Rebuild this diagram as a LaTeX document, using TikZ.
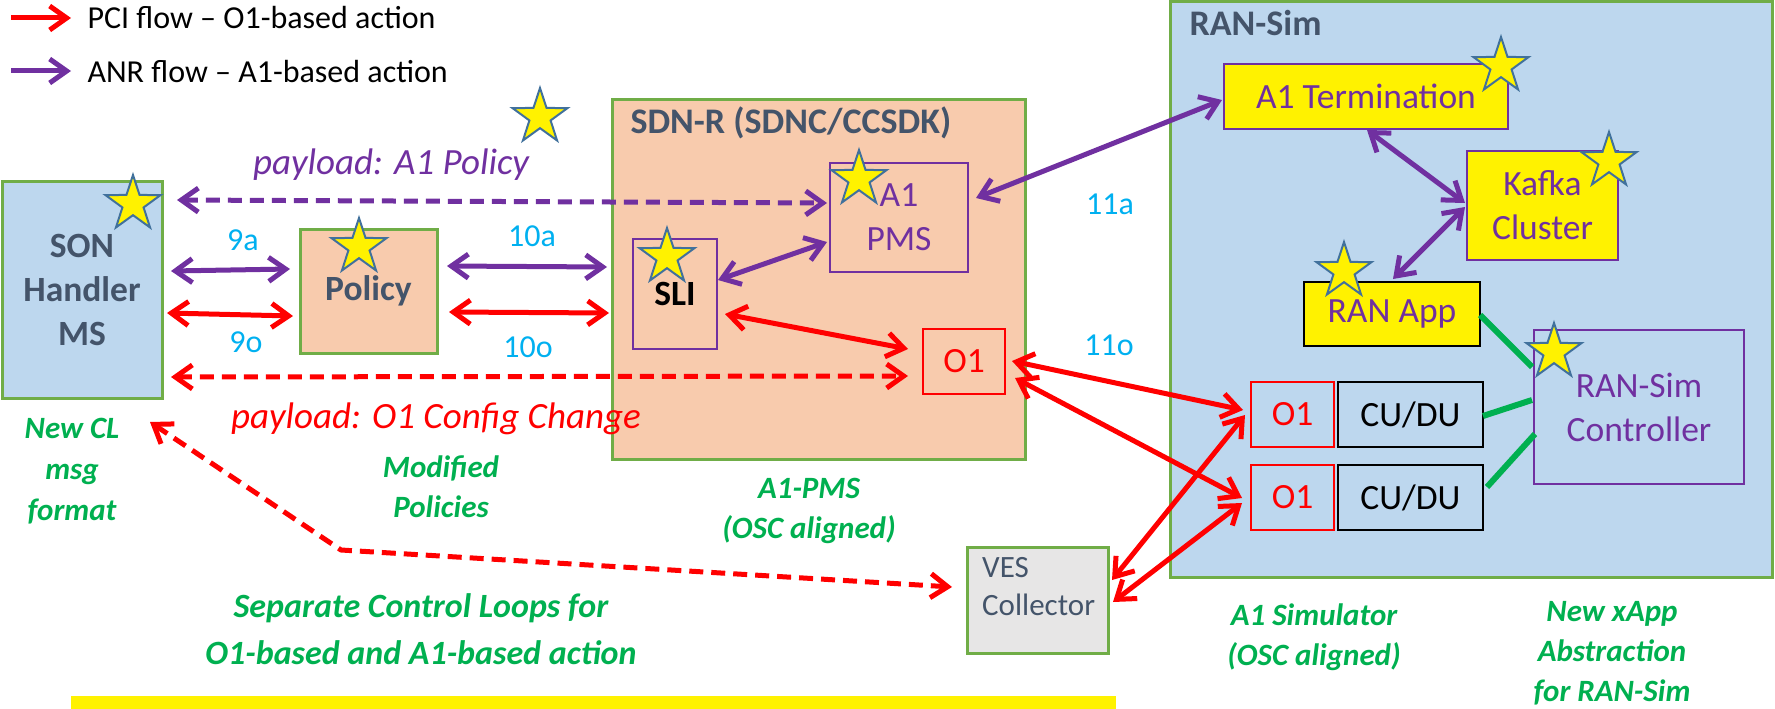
\documentclass[tikz,border=0pt]{standalone}
\usepackage{fontspec}
\setmainfont{Carlito}
\usetikzlibrary{arrows.meta,shapes.geometric}
\definecolor{lblue}{HTML}{BDD7EE}
\definecolor{peach}{HTML}{F8CBAD}
\definecolor{gborder}{HTML}{70AD47}
\definecolor{purp}{HTML}{7030A0}
\definecolor{cyanl}{HTML}{00B0F0}
\definecolor{gtext}{HTML}{00B050}
\definecolor{slate}{HTML}{44546A}
\definecolor{vesgray}{HTML}{E7E6E6}
\definecolor{starblue}{HTML}{41719C}
\newcommand\myfB{\fontsize{35.5}{44}\selectfont}
\newcommand\myfT{\fontsize{36}{43}\selectfont}
\newcommand\myfP{\fontsize{37}{43}\selectfont}
\newcommand\myfL{\fontsize{32}{38}\selectfont}
\newcommand\myfG{\fontsize{31}{40}\selectfont}
\newcommand\myfS{\fontsize{34}{47}\selectfont}
\newcommand\myfV{\fontsize{31}{38}\selectfont}
\begin{document}
\begin{tikzpicture}[x=1pt,y=-1pt,
  >={Straight Barb[length=17pt,width=24pt]},
  box/.style={draw, anchor=north west, outer sep=0pt, inner sep=0pt, align=center},
  greenbox/.style={box, draw=gborder, line width=3pt},
  purpbox/.style={box, draw=purp, line width=2pt, text=purp},
  redbox/.style={box, draw=red, line width=2pt, text=red},
  blackbox/.style={box, draw=black, line width=2.5pt},
  ystar/.style={star, star points=5, star point ratio=2.6, fill=yellow, draw=starblue, line width=2pt, minimum size=58pt, inner sep=0pt},
  parrow/.style={draw=purp, line width=5pt, <->, line join=round},
  rarrow/.style={draw=red, line width=5pt, <->, line join=round},
  dashpat/.style={dash pattern=on 14pt off 8pt},
  cyanlbl/.style={text=cyanl, font=\myfL},
  greenlbl/.style={text=gtext, font=\myfG\bfseries\itshape, align=center},
  gline/.style={draw=gtext, line width=6pt},
]
\useasboundingbox (0,0) rectangle (1775,709);

% big containers
\node[greenbox, fill=peach, minimum width=413pt, minimum height=360pt] (sdnr) at (612,99) {};
\node[greenbox, fill=lblue, minimum width=602pt, minimum height=575pt] (ransim) at (1170,2) {};
\node[anchor=base west, text=slate, font=\myfT\bfseries] (sdnrtitle) at (627,133) {SDN-R (SDNC/CCSDK)};
\node[anchor=base west, text=slate, font=\myfT\bfseries] (ransimtitle) at (1186,36) {RAN-Sim};

% boxes
\node[greenbox, fill=lblue, minimum width=160pt, minimum height=217pt, text=slate, font=\myfB\bfseries] (son) at (2,181) {SON\\Handler\\MS};
\node[greenbox, fill=peach, minimum width=137pt, minimum height=124pt, text=slate, font=\myfB\bfseries] (policy) at (300,229) {Policy};
\node[purpbox, fill=peach, minimum width=138pt, minimum height=109pt, font=\myfB] (a1pms) at (830,163) {A1\\PMS};
\node[purpbox, fill=peach, minimum width=84pt, minimum height=110pt, text=black, font=\myfB\bfseries] (sli) at (633,239) {SLI};
\node[redbox, fill=peach, minimum width=82pt, minimum height=65pt, font=\myfB] (o1s) at (923,329) {O1};
\node[purpbox, fill=yellow, minimum width=284pt, minimum height=65pt, font=\myfB] (a1term) at (1224,64) {A1 Termination};
\node[purpbox, fill=yellow, minimum width=151pt, minimum height=109pt, font=\myfB] (kafka) at (1467,151) {Kafka\\Cluster};
\node[blackbox, fill=yellow, text=purp, minimum width=176pt, minimum height=64pt, font=\myfB] (ranapp) at (1304,282) {RAN App};
\node[purpbox, minimum width=210pt, minimum height=154pt, font=\myfB] (ctrl) at (1534,330) {RAN-Sim\\Controller};
\node[redbox, minimum width=83pt, minimum height=65pt, font=\myfB] (o1u) at (1251,382) {O1};
\node[blackbox, minimum width=145pt, minimum height=65pt, font=\myfB] (cuu) at (1338,382) {CU/DU};
\node[redbox, minimum width=83pt, minimum height=65pt, font=\myfB] (o1l) at (1251,465) {O1};
\node[blackbox, minimum width=145pt, minimum height=65pt, font=\myfB] (cul) at (1338,465) {CU/DU};
\node[greenbox, fill=vesgray, minimum width=141pt, minimum height=106pt] (ves) at (967,547) {};
\node[anchor=north west, inner sep=0pt, text=slate, font=\myfV, align=left] (vestext) at (982,557) {VES\\Collector};

% yellow bar
\fill[yellow] (71,696) rectangle (1116,709);

% legend
\coordinate (lr1) at (11,18); \coordinate (lr2) at (71,18);
\coordinate (lp1) at (11,71); \coordinate (lp2) at (71,71);
\draw[draw=red, line width=5pt, ->] (lr1) -- (lr2);
\draw[draw=purp, line width=5pt, ->] (lp1) -- (lp2);
\node[anchor=base west, font=\myfL] (legr) at (84,29) {PCI flow – O1-based action};
\node[anchor=base west, font=\myfL] (legp) at (84,82) {ANR flow – A1-based action};

% connectors
\draw[parrow, dashpat] ([xshift=15pt,yshift=-19pt]son.north east) -- ([xshift=-3pt,yshift=-40pt]a1pms.north west);
\draw[parrow] ([xshift=9pt,yshift=-90pt]son.north east) -- ([xshift=-10pt,yshift=-40pt]policy.north west);
\draw[rarrow] ([xshift=5pt,yshift=-132pt]son.north east) -- ([xshift=-7pt,yshift=-87pt]policy.north west);
\draw[parrow] ([xshift=10pt,yshift=-37pt]policy.north east) -- ([xshift=-5pt,yshift=-168pt]sdnr.north west);
\draw[rarrow] ([xshift=12pt,yshift=-83pt]policy.north east) -- ([xshift=-3pt,yshift=-214pt]sdnr.north west);
\draw[rarrow, dashpat] ([xshift=9pt,yshift=-196pt]son.north east) -- ([xshift=-15pt,yshift=-47pt]o1s.north west);
\draw[parrow] ([xshift=1pt,yshift=-41pt]sli.north east) -- ([xshift=-3pt,yshift=-79pt]a1pms.north west);
\draw[rarrow] ([xshift=8pt,yshift=-75pt]sli.north east) -- ([xshift=-15pt,yshift=-20pt]o1s.north west);
\draw[parrow] ([xshift=8pt,yshift=-35pt]a1pms.north east) -- ([xshift=-2pt,yshift=-36pt]a1term.north west);
\draw[rarrow] ([xshift=7pt,yshift=-32pt]o1s.north east) -- ([xshift=-8pt,yshift=-28pt]o1u.north west);
\draw[rarrow] ([xshift=10pt,yshift=-49pt]o1s.north east) -- ([xshift=-9pt,yshift=-33pt]o1l.north west);
\draw[rarrow] ([xshift=4pt,yshift=-33pt]ves.north east) -- ([xshift=-6pt,yshift=-33pt]o1u.north west);
\draw[rarrow] ([xshift=5pt,yshift=-55pt]ves.north east) -- ([xshift=-9pt,yshift=-38pt]o1l.north west);
\draw[parrow] ([xshift=143pt,yshift=-1pt]a1term.south west) -- ([xshift=-2pt,yshift=-52pt]kafka.north west);
\draw[parrow] ([xshift=-2pt,yshift=-56pt]kafka.north west) -- ([xshift=89pt,yshift=3pt]ranapp.north west);
\coordinate (bend) at (341,550);
\draw[rarrow, dashpat] ([xshift=-12pt,yshift=-24pt]son.south east) -- (bend) -- ([xshift=-15pt,yshift=-40pt]ves.north west);
\draw[gline] ([yshift=-33pt]ranapp.north east) -- ([xshift=-2pt,yshift=-37pt]ctrl.north west);
\draw[gline] ([yshift=-34pt]cuu.north east) -- ([xshift=-2pt,yshift=-70pt]ctrl.north west);
\draw[gline] ([xshift=4pt,yshift=-22pt]cul.north east) -- ([xshift=1pt,yshift=-104pt]ctrl.north west);

% stars
\node[ystar] (st0) at (540,117) {};
\node[ystar] (st1) at (133,204) {};
\node[ystar] (st2) at (359,247) {};
\node[ystar] (st3) at (859,179) {};
\node[ystar] (st4) at (667,257) {};
\node[ystar] (st5) at (1501,66) {};
\node[ystar] (st6) at (1609,161) {};
\node[ystar] (st7) at (1344,271) {};
\node[ystar] (st8) at (1554,352) {};

% labels
\node[cyanlbl] (l9a) at (243,240) {9a};
\node[cyanlbl] (l9o) at (246,342) {9o};
\node[cyanlbl] (l10a) at (532,236) {10a};
\node[cyanlbl] (l10o) at (528,347) {10o};
\node[cyanlbl] (l11a) at (1110,204) {11a};
\node[cyanlbl] (l11o) at (1109,345) {11o};
\node[anchor=base, text=purp, font=\myfP\itshape] (pl1) at (391,174) {payload: A1 Policy};
\node[anchor=base, text=red, font=\myfP\itshape] (pl2) at (436,428) {payload: O1 Config Change};

\node[greenlbl, font=\fontsize{31}{41}\selectfont\bfseries\itshape] (g1) at (72,471) {New CL\\msg\\format};
\node[greenlbl] (g2) at (441,487) {Modified\\Policies};
\node[greenlbl] (g3) at (809,511) {A1-PMS\\(OSC aligned)};
\node[greenlbl, font=\myfS\bfseries\itshape] (g4) at (421,629) {Separate Control Loops for\\O1-based and A1-based action};
\node[greenlbl] (g5) at (1314,637) {A1 Simulator\\(OSC aligned)};
\node[greenlbl] (g6) at (1612,653) {New xApp\\Abstraction\\for RAN-Sim};
\end{tikzpicture}
\end{document}
